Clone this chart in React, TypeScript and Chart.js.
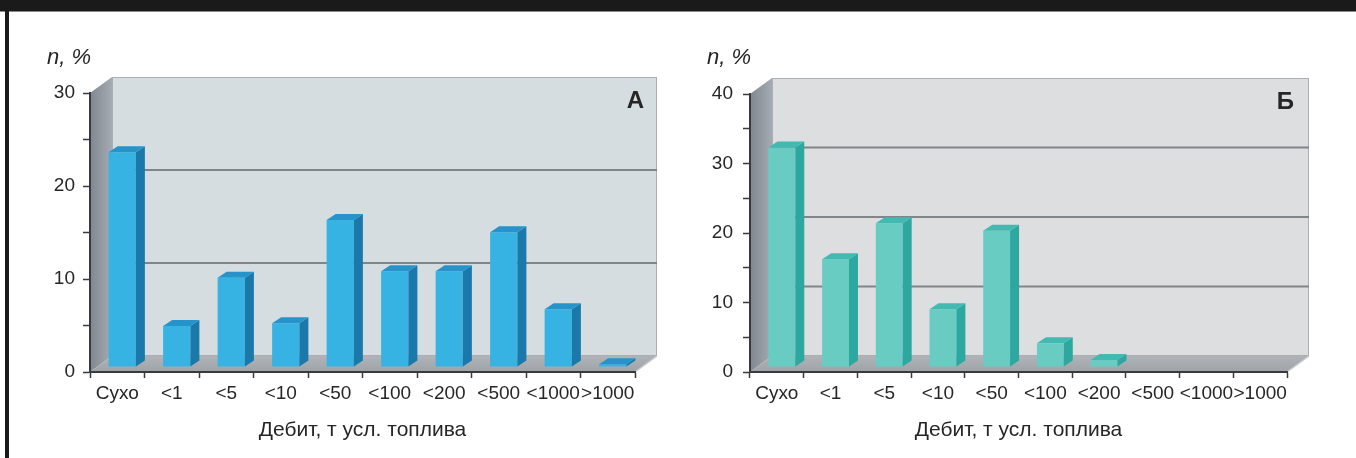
import React, { useEffect, useRef } from 'react';
import { Chart, registerables } from 'chart.js';

Chart.register(...registerables);

// ---- data ----
const categories = ['Сухо', '<1', '<5', '<10', '<50', '<100', '<200', '<500', '<1000', '>1000'];
const valuesA = [23.1, 4.4, 9.6, 4.7, 15.8, 10.3, 10.3, 14.5, 6.2, 0.3];
const valuesB = [31.6, 15.5, 20.7, 8.3, 19.6, 3.4, 1.0, 0, 0, 0];
const yMaxA = 30;
const yMaxB = 40;
const gridValuesA = [10, 20];
const gridValuesB = [10, 20, 30];
const axisTitle = 'Дебит, т усл. топлива';
const yUnit = 'n, %';
const panelLabelA = 'А';
const panelLabelB = 'Б';

const FONT = "'Liberation Sans', Arial, sans-serif";
const TEXT = '#262626';
const AXIS = '#3a3a3a';

const depthPlugin = {
  id: 'depth3d',
  beforeDraw(chart: any, _args: any, o: any) {
    const { ctx, chartArea } = chart;
    const { left, right, top, bottom } = chartArea;
    const y = chart.scales.y;
    const dx = o.wallDx, dy = o.wallDy;
    ctx.save();
    // left side wall
    const g = ctx.createLinearGradient(left, 0, left + dx, 0);
    g.addColorStop(0, o.sideWall0);
    g.addColorStop(1, o.sideWall1);
    ctx.fillStyle = g;
    ctx.beginPath();
    ctx.moveTo(left, bottom);
    ctx.lineTo(left, top);
    ctx.lineTo(left + dx, top - dy);
    ctx.lineTo(left + dx, bottom - dy);
    ctx.closePath();
    ctx.fill();
    // back wall
    ctx.fillStyle = o.backWall;
    ctx.fillRect(left + dx, top - dy, right - left, bottom - top);
    ctx.strokeStyle = 'rgba(150,155,160,0.7)';
    ctx.lineWidth = 1;
    ctx.strokeRect(left + dx + 0.5, top - dy + 0.5, right - left - 1, bottom - top - 1);
    // floor
    const fg = ctx.createLinearGradient(0, bottom, 0, bottom - dy);
    fg.addColorStop(0, o.floor0);
    fg.addColorStop(1, o.floor1);
    ctx.fillStyle = fg;
    ctx.beginPath();
    ctx.moveTo(left, bottom);
    ctx.lineTo(right, bottom);
    ctx.lineTo(right + dx, bottom - dy);
    ctx.lineTo(left + dx, bottom - dy);
    ctx.closePath();
    ctx.fill();
    // right slanted edge of floor
    ctx.strokeStyle = 'rgba(200,204,208,1)';
    ctx.lineWidth = 1.5;
    ctx.beginPath();
    ctx.moveTo(right, bottom);
    ctx.lineTo(right + dx, bottom - dy);
    ctx.stroke();
    // grid lines on the back wall
    ctx.strokeStyle = o.gridColor;
    ctx.lineWidth = 2;
    for (const v of o.gridValues) {
      const yy = y.getPixelForValue(v) - dy;
      ctx.beginPath();
      ctx.moveTo(left + dx, yy);
      ctx.lineTo(right + dx, yy);
      ctx.stroke();
    }
    // panel label and unit
    ctx.fillStyle = TEXT;
    ctx.font = `bold 24px ${FONT}`;
    ctx.textAlign = 'right';
    ctx.textBaseline = 'middle';
    ctx.fillText(o.panelLabel, right + dx - o.labelInset, top - dy + 24);
    ctx.font = `italic 22px ${FONT}`;
    ctx.textAlign = 'left';
    ctx.fillText(o.unit, o.unitX, 58);
    ctx.restore();
  },
  beforeDatasetsDraw(chart: any, _args: any, o: any) {
    chart.ctx.save();
    chart.ctx.translate(o.barDx, -o.barDy);
  },
  afterDatasetsDraw(chart: any, _args: any, o: any) {
    const ctx = chart.ctx;
    const meta = chart.getDatasetMeta(0);
    const ddx = o.barDepthX, ddy = o.barDepthY;
    meta.data.forEach((bar: any) => {
      const { x, y, base, width } = bar.getProps(['x', 'y', 'base', 'width'], true);
      if (Math.abs(base - y) < 0.5) return;
      const l = x - width / 2, r = x + width / 2;
      ctx.fillStyle = o.barSide;
      ctx.beginPath();
      ctx.moveTo(r, y);
      ctx.lineTo(r + ddx, y - ddy);
      ctx.lineTo(r + ddx, base - ddy);
      ctx.lineTo(r, base);
      ctx.closePath();
      ctx.fill();
      ctx.fillStyle = o.barTop;
      ctx.beginPath();
      ctx.moveTo(l, y);
      ctx.lineTo(l + ddx, y - ddy);
      ctx.lineTo(r + ddx, y - ddy);
      ctx.lineTo(r, y);
      ctx.closePath();
      ctx.fill();
    });
    ctx.restore();
  },
};

type Panel = {
  values: number[];
  max: number;
  gridValues: number[];
  padTop: number;
  padRight: number;
  yWidth: number;
  yPad: number;
  front: string;
  side: string;
  top: string;
  backWall: string;
  label: string;
  labelInset: number;
  unitX: number;
};

function makeConfig(p: Panel): any {
  return {
    type: 'bar',
    data: {
      labels: categories,
      datasets: [
        {
          data: p.values,
          backgroundColor: p.front,
          borderWidth: 0,
          barPercentage: 0.5,
          categoryPercentage: 1,
          clip: false,
        },
      ],
    },
    options: {
      animation: false,
      responsive: false,
      maintainAspectRatio: false,
      layout: { padding: { top: p.padTop, right: p.padRight, left: 0, bottom: 0 } },
      plugins: {
        legend: { display: false },
        tooltip: { enabled: false },
        depth3d: {
          wallDx: 22,
          wallDy: 16,
          barDx: 5,
          barDy: 5,
          barDepthX: 9,
          barDepthY: 6,
          sideWall0: 'rgb(128,135,143)',
          sideWall1: 'rgb(165,171,178)',
          backWall: p.backWall,
          floor0: 'rgb(158,163,168)',
          floor1: 'rgb(176,180,185)',
          gridColor: 'rgb(128,133,138)',
          gridValues: p.gridValues,
          barSide: p.side,
          barTop: p.top,
          panelLabel: p.label,
          labelInset: p.labelInset,
          unit: yUnit,
          unitX: p.unitX,
        },
      },
      scales: {
        x: {
          type: 'category',
          offset: true,
          grid: {
            display: true,
            drawOnChartArea: false,
            offset: true,
            tickLength: 6,
            tickColor: AXIS,
            tickWidth: 1.5,
          },
          border: { display: true, color: AXIS, width: 2 },
          ticks: {
            autoSkip: false,
            maxRotation: 0,
            minRotation: 0,
            padding: 4,
            color: TEXT,
            font: { family: FONT, size: 19 },
          },
          title: {
            display: true,
            text: axisTitle,
            color: TEXT,
            font: { family: FONT, size: 21 },
            padding: { top: 0, bottom: 15 },
          },
          afterFit: (s: any) => {
            s.height = 86;
          },
        },
        y: {
          min: 0,
          max: p.max,
          ticks: {
            stepSize: 5,
            padding: p.yPad,
            color: TEXT,
            font: { family: FONT, size: 19 },
            callback: (v: any) => (Number(v) % 10 === 0 ? String(v) : ''),
          },
          grid: {
            drawOnChartArea: false,
            tickLength: 7,
            tickColor: AXIS,
            tickWidth: 1.5,
          },
          border: { display: true, color: AXIS, width: 2 },
          afterFit: (s: any) => {
            s.width = p.yWidth;
          },
        },
      },
    },
    plugins: [depthPlugin],
  };
}

function ChartCanvas({ panel, width, height, left }: { panel: Panel; width: number; height: number; left: number }) {
  const ref = useRef<HTMLCanvasElement | null>(null);
  useEffect(() => {
    if (!ref.current) return;
    const chart = new Chart(ref.current, makeConfig(panel));
    return () => chart.destroy();
  }, []);
  return (
    <canvas
      ref={ref}
      width={width}
      height={height}
      style={{ position: 'absolute', left, top: 0, width, height, display: 'block' }}
    />
  );
}

const panelA: Panel = {
  values: valuesA,
  max: yMaxA,
  gridValues: gridValuesA,
  padTop: 93,
  padRight: 45,
  yWidth: 90,
  yPad: 8,
  front: 'rgb(54,179,226)',
  side: 'rgb(26,120,170)',
  top: 'rgb(38,148,202)',
  backWall: 'rgb(213,221,225)',
  label: panelLabelA,
  labelInset: 13,
  unitX: 47,
};

const panelB: Panel = {
  values: valuesB,
  max: yMaxB,
  gridValues: gridValuesB,
  padTop: 94,
  padRight: 69,
  yWidth: 70,
  yPad: 10,
  front: 'rgb(104,204,195)',
  side: 'rgb(44,168,160)',
  top: 'rgb(66,186,177)',
  backWall: 'rgb(221,222,223)',
  label: panelLabelB,
  labelInset: 15,
  unitX: 27,
};

export default function App() {
  return (
    <div style={{ position: 'fixed', left: 0, top: 0, width: 1356, height: 458, background: '#fff', overflow: 'hidden' }}>
      <ChartCanvas panel={panelA} width={680} height={458} left={0} />
      <ChartCanvas panel={panelB} width={676} height={458} left={680} />
      <div style={{ position: 'absolute', left: 0, top: 0, width: 1356, height: 11, background: '#1a1a1a' }} />
      <div style={{ position: 'absolute', left: 0, top: 11, width: 1356, height: 1, background: '#8a8a8a' }} />
      <div style={{ position: 'absolute', left: 5, top: 0, width: 4, height: 458, background: '#1a1a1a' }} />
    </div>
  );
}
